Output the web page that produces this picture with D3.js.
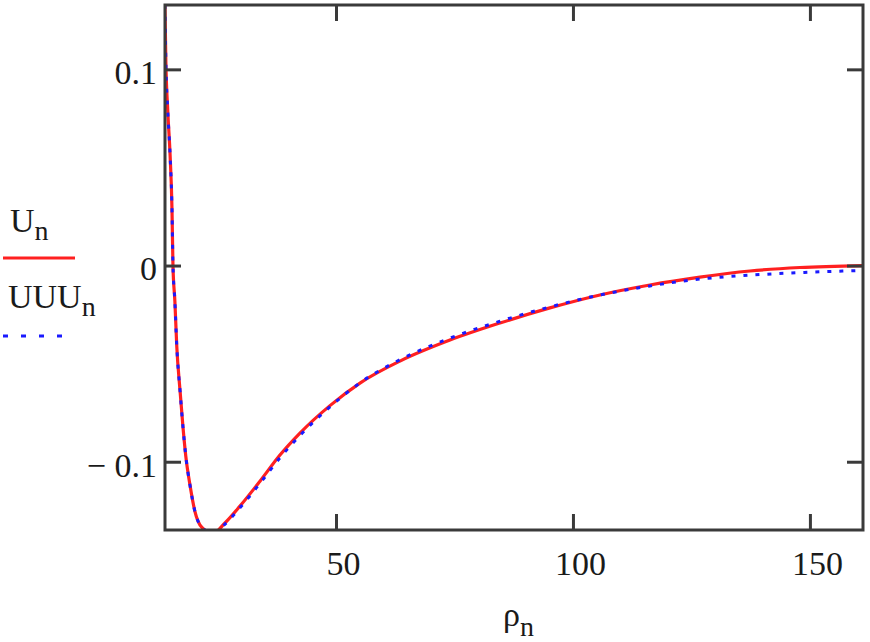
<!DOCTYPE html>
<html>
<head>
	<title>U vs rho</title>
	<script src="https://cdn.jsdelivr.net/npm/d3@7"></script>
	<style>
	body { margin: 0; background: #fff; }
	svg text { font-family: "Liberation Serif", "DejaVu Serif", serif; fill: #1a1a1a; }
	</style>
</head>
<body>
	<svg id="chart"></svg>
	<script>

	// rho_n sample positions
	var rho = [13.9, 14.1, 14.5, 15.0, 15.4, 15.6, 16.0, 16.4, 17.1, 17.7, 18.3, 19.2, 20.2, 21.7,
		24.05, 26.58, 29.74, 33.96, 38.18, 42.40, 48.73, 55.06, 63.50, 74.05, 84.60, 95.14,
		105.69, 116.24, 126.79, 137.34, 147.89, 161.2];

	// U_n (red, solid)
	var U = [0.133, 0.104, 0.079, 0.056, 0.028, 0.0, -0.018, -0.041, -0.064, -0.082, -0.097, -0.112, -0.125, -0.1335,
		-0.1365, -0.1312, -0.1226, -0.1099, -0.0966, -0.0854, -0.0714, -0.0599, -0.0487, -0.0380, -0.0293, -0.0216,
		-0.0150, -0.0099, -0.0059, -0.0028, -0.0010, 0.0];

	// UUU_n (blue, dotted)
	var UUU = [0.133, 0.104, 0.079, 0.056, 0.028, 0.0, -0.018, -0.041, -0.064, -0.082, -0.097, -0.112, -0.125, -0.1335,
		-0.1365, -0.1318, -0.1235, -0.1110, -0.0980, -0.0866, -0.0720, -0.0598, -0.0480, -0.0370, -0.0284, -0.0211,
		-0.0150, -0.0104, -0.0069, -0.0049, -0.0036, -0.0025];

	var xTicks = [50, 100, 150];
	var yTicks = [-0.1, 0, 0.1];

	var W = 870, H = 642;
	var plot = {left: 165, top: 5, right: 863, bottom: 530};

	var svg = d3.select("#chart").attr("width", W).attr("height", H);

	var x = d3.scaleLinear().domain([13.92, 161.2]).range([plot.left, plot.right]);
	var y = d3.scaleLinear().domain([-0.1348, 0.1328]).range([plot.bottom, plot.top]);

	svg.append("clipPath").attr("id", "clip")
		.append("rect")
		.attr("x", plot.left).attr("y", plot.top)
		.attr("width", plot.right - plot.left).attr("height", plot.bottom - plot.top);

	var redPts = rho.map(function(r, i) { return [r, U[i]]; });
	var bluePts = rho.map(function(r, i) { return [r, UUU[i]]; });

	var line = d3.line()
		.x(function(d) { return x(d[0]); })
		.y(function(d) { return y(d[1]); })
		.curve(d3.curveMonotoneX);

	var curves = svg.append("g").attr("clip-path", "url(#clip)");

	curves.append("path")
		.attr("d", line(redPts))
		.attr("fill", "none")
		.attr("stroke", "#ff2020")
		.attr("stroke-width", 3.2);

	curves.append("path")
		.attr("d", line(bluePts))
		.attr("fill", "none")
		.attr("stroke", "#1a1aff")
		.attr("stroke-width", 3)
		.attr("stroke-dasharray", "4,8");

	//axes: inward ticks on all four sides
	var tickLen = 16;
	var axCol = "#3a3a3a";

	var bx = svg.append("g").attr("transform", "translate(0," + plot.bottom + ")")
		.call(d3.axisBottom(x).tickValues(xTicks).tickSize(-tickLen).tickSizeOuter(0));
	var tx = svg.append("g").attr("transform", "translate(0," + plot.top + ")")
		.call(d3.axisTop(x).tickValues(xTicks).tickSize(-tickLen).tickSizeOuter(0).tickFormat(""));
	var ly = svg.append("g").attr("transform", "translate(" + plot.left + ",0)")
		.call(d3.axisLeft(y).tickValues(yTicks).tickSize(-tickLen).tickSizeOuter(0)
			.tickFormat(function(d) { return d < 0 ? "\u2212 " + Math.abs(d) : d; }));
	var ry = svg.append("g").attr("transform", "translate(" + plot.right + ",0)")
		.call(d3.axisRight(y).tickValues(yTicks).tickSize(-tickLen).tickSizeOuter(0).tickFormat(""));

	[bx, tx, ly, ry].forEach(function(g) {
		g.select(".domain").remove();
		g.selectAll(".tick line").attr("stroke", axCol).attr("stroke-width", 3);
	});

	bx.selectAll(".tick text")
		.attr("y", 45).attr("dy", 0).attr("dx", 7)
		.attr("font-size", 34).attr("font-family", null).attr("fill", "#1a1a1a");
	ly.selectAll(".tick text")
		.attr("x", -8).attr("dy", "0.42em")
		.attr("font-size", 34).attr("font-family", null).attr("fill", "#1a1a1a");

	svg.append("rect")
		.attr("x", plot.left).attr("y", plot.top)
		.attr("width", plot.right - plot.left).attr("height", plot.bottom - plot.top)
		.attr("fill", "none").attr("stroke", axCol).attr("stroke-width", 3);

	//axis title
	var xt = svg.append("text").attr("x", 503).attr("y", 626).attr("font-size", 34).text("\u03c1");
	xt.append("tspan").attr("font-size", 28).attr("dy", 10).text("n");

	//legend on the left
	var l1 = svg.append("text").attr("x", 10).attr("y", 232).attr("font-size", 34).text("U");
	l1.append("tspan").attr("font-size", 28).attr("dy", 8).text("n");
	svg.append("line").attr("x1", 3).attr("x2", 75).attr("y1", 258).attr("y2", 258)
		.attr("stroke", "#ff2020").attr("stroke-width", 3);

	var l2 = svg.append("text").attr("x", 8).attr("y", 308).attr("font-size", 34).text("UUU");
	l2.append("tspan").attr("font-size", 28).attr("dy", 8).text("n");
	svg.append("line").attr("x1", 3).attr("x2", 62).attr("y1", 336).attr("y2", 336)
		.attr("stroke", "#1a1aff").attr("stroke-width", 3).attr("stroke-dasharray", "5,13");

	</script>
</body>
</html>
